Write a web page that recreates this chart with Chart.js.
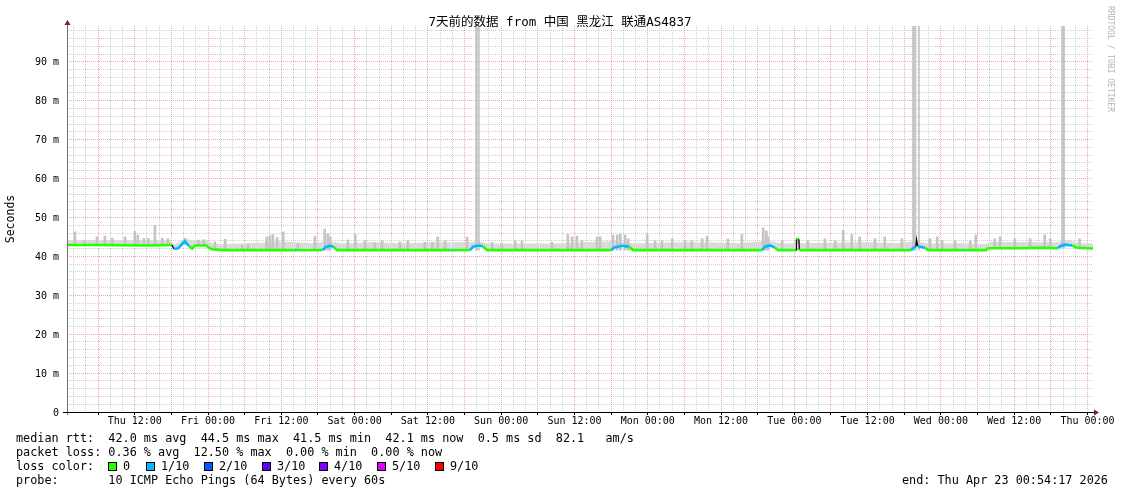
<!DOCTYPE html>
<html>
<head>
<meta charset="utf-8">
<script src="https://cdn.jsdelivr.net/npm/chart.js@4.4.1/dist/chart.umd.min.js"></script>
<style>
  html, body { margin: 0; padding: 0; background: #ffffff; }
  canvas { display: block; }
</style>
</head>
<body>
<canvas id="c" width="1121" height="494"></canvas>
<script>
// ---------------- data (time in hours since start: Thu Apr 16 00:54:17) ----------------
const xTickLabels = ['Thu 12:00','Fri 00:00','Fri 12:00','Sat 00:00','Sat 12:00','Sun 00:00','Sun 12:00',
                     'Mon 00:00','Mon 12:00','Tue 00:00','Tue 12:00','Wed 00:00','Wed 12:00','Thu 00:00'];
const xTickHours = [11.0953, 23.0953, 35.0953, 47.0953, 59.0953, 71.0953, 83.0953,
                    95.0953, 107.0953, 119.0953, 131.0953, 143.0953, 155.0953, 167.0953];
const yTickValues = [0, 10, 20, 30, 40, 50, 60, 70, 80, 90];
const yTickLabels = ['0', '10 m', '20 m', '30 m', '40 m', '50 m', '60 m', '70 m', '80 m', '90 m'];

// median rtt (ms) and packet loss (tenths) of each median point
const medianHours = [0, 5.4, 13.3, 17.2, 17.5, 18.2, 19.3, 20.0, 20.5, 21.0, 22.8, 23.3, 23.9, 26.0,
  37.3, 37.5, 37.8, 41.8, 42.4, 43.1, 43.7, 44.2, 62.8, 63.0, 63.2, 66.0, 66.5, 67.3, 68.1, 68.8,
  89.1, 89.6, 90.9, 92.0, 92.7, 113.8, 114.3, 115.1, 115.9, 116.4, 119.4, 119.45, 119.85, 119.9,
  138.2, 138.7, 139.0, 139.1, 139.3, 140.5, 141.0, 146.7, 146.9, 147.1, 150.5, 150.8, 156.0, 159.3, 162.3,
  162.6, 163.4, 164.6, 165.4, 168.0];
const medianMs = [42.9, 42.9, 42.8, 42.9, 41.9, 42.1, 43.9, 42.6, 42.0, 42.8, 42.8, 42.1, 41.8, 41.6,
  41.6, 41.6, 41.6, 41.6, 42.4, 42.7, 42.4, 41.6, 41.6, 41.6, 41.6, 41.6, 42.5, 42.8, 42.6, 41.6,
  41.6, 42.3, 42.7, 42.5, 41.6, 41.6, 42.5, 42.8, 42.3, 41.6, 41.6, 44.5, 44.4, 41.6,
  41.6, 42.3, 42.5, 44.3, 42.6, 42.2, 41.6, 41.6, 41.6, 41.6, 41.6, 42.1, 42.1, 42.2, 42.1,
  42.6, 43.0, 42.8, 42.2, 42.0];
const medianLoss = [0, 0, 0, 0, 0, 1, 1, 1, 0, 0, 0, 0, 0, 0,
  0, 1, 0, 0, 1, 1, 1, 0, 0, 1, 0, 0, 1, 1, 1, 0,
  0, 1, 1, 1, 0, 0, 1, 1, 1, 0, 0, 0, 0, 0,
  0, 1, 1, 1, 1, 1, 0, 0, 1, 0, 0, 0, 0, 0, 0,
  1, 1, 1, 0, 0];

// smoke: general band top, and individual smoke spikes
const smokeBandHours = [0, 17.0, 17.6, 19.3, 21.0, 23.0, 24.0, 26.0, 30.0, 35.0, 40.0, 43.0, 45.0, 50.0,
  55.0, 60.0, 66.0, 67.3, 69.0, 75.0, 80.0, 86.0, 90.0, 93.0, 100.0, 105.0, 110.0, 115.0, 117.0,
  125.0, 130.0, 136.0, 139.0, 141.0, 145.0, 150.5, 151.0, 156.0, 162.0, 164.0, 166.0, 168.0];
const smokeBandTop = [44.2, 44.2, 43.0, 44.6, 44.0, 44.0, 43.2, 43.2, 43.4, 43.8, 43.4, 43.9, 43.3, 43.6,
  43.4, 43.6, 43.6, 43.9, 43.3, 43.3, 43.3, 43.7, 43.9, 43.3, 43.6, 43.6, 43.4, 44.0, 43.3,
  43.5, 43.7, 43.4, 43.9, 43.3, 43.4, 43.2, 43.7, 43.7, 43.6, 44.2, 43.4, 43.3];

const smokeSpikeHours = [1.3, 2.9, 4.9, 6.2, 7.4, 9.5, 11.1, 11.6, 12.6, 13.3, 14.4, 15.6, 16.5,
  19.3, 21.5, 22.4, 24.2, 25.9, 28.7, 29.6, 32.7, 33.2, 33.7, 34.4, 35.4, 37.8, 40.6, 42.2, 42.7, 43.1,
  46.0, 47.2, 48.8, 50.4, 51.6, 54.5, 55.8, 58.6, 59.8, 60.7, 61.9, 65.5, 69.6, 71.2,
  73.4, 74.5, 79.4, 82.0, 82.7, 83.5, 84.3, 86.8, 87.3, 89.4, 90.1, 90.6, 91.4, 91.9, 95.0, 96.3,
  97.4, 99.1, 101.2, 102.3, 104.0, 104.8, 108.2, 110.5, 114.0, 114.5, 114.8, 117.1, 121.3, 124.1,
  125.8, 127.1, 128.5, 129.8, 132.3, 133.9, 136.7, 141.3, 142.5, 143.3, 145.4, 147.9,
  148.8, 151.9, 152.8, 155.2, 157.7, 160.1, 161.0, 165.8];
const smokeSpikeTop = [46.3, 44.2, 45.0, 45.2, 44.7, 45.0, 46.4, 45.5, 44.6, 44.6, 48.0, 44.7, 44.5,
  44.7, 44.2, 44.3, 43.7, 44.4, 42.9, 43.2, 45.0, 45.3, 45.6, 44.8, 46.3, 43.2, 45.1, 47.0, 45.8, 45.0,
  44.2, 45.6, 44.0, 43.5, 44.0, 43.7, 44.0, 43.6, 43.6, 45.0, 44.0, 45.0, 43.6, 43.3,
  44.0, 44.0, 43.6, 45.6, 45.0, 45.2, 44.0, 45.0, 45.0, 45.5, 45.5, 45.8, 45.5, 44.5, 45.7, 44.0,
  44.0, 44.5, 44.0, 44.0, 44.5, 45.2, 44.5, 45.6, 47.3, 46.5, 45.0, 44.0, 44.0, 44.5,
  44.0, 46.7, 45.6, 45.0, 44.5, 45.0, 44.5, 44.5, 45.0, 44.0, 44.0, 44.0,
  45.5, 44.5, 45.0, 44.5, 44.5, 45.5, 44.5, 44.5];
const smokeSpikeLow = [42.9, 42.9, 42.9, 42.9, 42.9, 42.9, 42.9, 42.9, 42.9, 42.9, 42.9, 42.9, 42.9,
  43.0, 42.8, 42.8, 41.8, 41.7, 41.6, 41.6, 41.6, 41.6, 41.6, 41.6, 41.6, 41.6, 41.6, 41.6, 41.6, 41.6,
  41.6, 41.6, 41.6, 41.6, 41.6, 41.6, 41.6, 41.6, 41.6, 41.6, 41.6, 41.6, 41.6, 41.6,
  41.6, 41.6, 41.6, 41.6, 41.6, 41.6, 41.6, 41.6, 41.6, 41.6, 41.6, 41.6, 41.6, 41.6, 41.6, 41.6,
  41.6, 41.6, 41.6, 41.6, 41.6, 41.6, 41.6, 41.6, 41.6, 41.6, 41.6, 41.6, 41.6, 41.6,
  41.6, 41.6, 41.6, 41.6, 41.6, 41.6, 41.6, 41.6, 41.6, 41.6, 41.6, 41.6,
  41.6, 42.1, 42.1, 42.1, 42.1, 42.1, 42.1, 42.1];

// the three very tall smoke columns (one entry per rrd step)
const tallSmokeHours = [66.97, 67.13, 67.46, 138.53, 138.69, 138.85, 139.50, 162.93, 163.09, 163.26];
const tallSmokeTop = [99.2, 99.2, 99.2, 99.2, 99.2, 99.2, 99.2, 99.2, 99.2, 99.2];
const tallSmokeLow = [41.6, 41.6, 41.6, 41.6, 41.6, 41.6, 41.6, 42.1, 42.1, 42.1];

const lossLegendLabels = ['0', '1/10', '2/10', '3/10', '4/10', '5/10', '9/10'];
const lossLegendTenths = [0, 1, 2, 3, 4, 5, 9];

const titleText = '7天前的数据 from 中国 黑龙江 联通AS4837';
const legendLines = [
  'median rtt:  42.0 ms avg  44.5 ms max  41.5 ms min  42.1 ms now  0.5 ms sd  82.1   am/s',
  'packet loss: 0.36 % avg  12.50 % max  0.00 % min  0.00 % now',
  'loss color:',
  'probe:       10 ICMP Echo Pings (64 Bytes) every 60s'
];
const endText = 'end: Thu Apr 23 00:54:17 2026';

// ---------------- styling ----------------
const lossColors = {0: '#26ff00', 1: '#00b8ff', 2: '#0059ff', 3: '#5e00ff', 4: '#7e00ff', 5: '#dd00ff', 9: '#ff0000'};
const MONO = "'DejaVu Sans Mono', 'Noto Sans CJK SC', monospace";
const minorGrid = 'rgba(150,150,150,0.45)';
const majorGrid = 'rgba(240,110,110,0.6)';
const X_MIN = 0, X_MAX = 168, Y_MAX = 99.2;

Chart.defaults.font.family = MONO;
Chart.defaults.color = '#000';

const isMajorX = v => {
  const r = (v - xTickHours[0]) / 6;
  return Math.abs(r - Math.round(r)) < 1e-3;
};

const medianPoints = medianHours.map((h, i) => ({x: h, y: medianMs[i]}));
const bandPoints = smokeBandHours.map((h, i) => ({x: h, y: smokeBandTop[i]}));
const spikePoints = smokeSpikeHours.map((h, i) => ({x: h, y: [smokeSpikeLow[i], smokeSpikeTop[i]]}));
const tallPoints = tallSmokeHours.map((h, i) => ({x: h, y: [tallSmokeLow[i], tallSmokeTop[i]]}));

const steep = c => {
  const dx = Math.abs(c.p1.x - c.p0.x), dy = Math.abs(c.p1.y - c.p0.y);
  return dy > 3 && dy > 2 * dx;
};

const decor = {
  id: 'decor',
  afterDraw(chart) {
    const ctx = chart.ctx;
    const a = chart.chartArea;
    ctx.save();
    // axes
    ctx.lineWidth = 1;
    ctx.strokeStyle = '#707070';
    ctx.beginPath(); ctx.moveTo(a.left + 0.5, a.bottom + 3); ctx.lineTo(a.left + 0.5, a.top - 3); ctx.stroke();
    ctx.strokeStyle = '#000';
    ctx.beginPath(); ctx.moveTo(a.left - 4, a.bottom + 0.5); ctx.lineTo(a.right + 2, a.bottom + 0.5); ctx.stroke();
    // arrows
    ctx.fillStyle = '#8b1a1a';
    ctx.beginPath(); ctx.moveTo(a.left + 0.5, a.top - 6); ctx.lineTo(a.left - 2.5, a.top - 1); ctx.lineTo(a.left + 3.5, a.top - 1); ctx.closePath(); ctx.fill();
    ctx.beginPath(); ctx.moveTo(a.right + 6, a.bottom + 0.5); ctx.lineTo(a.right + 1, a.bottom - 2.5); ctx.lineTo(a.right + 1, a.bottom + 3.5); ctx.closePath(); ctx.fill();

    // title
    ctx.fillStyle = '#000';
    ctx.font = '12.5px ' + MONO;
    ctx.textAlign = 'center'; ctx.textBaseline = 'middle';
    ctx.fillText(titleText, 560, 22.5);

    // vertical axis label
    ctx.save();
    ctx.translate(11, 219); ctx.rotate(-Math.PI / 2);
    ctx.font = '11.5px ' + MONO;
    ctx.fillText('Seconds', 0, 0);
    ctx.restore();

    // watermark
    ctx.save();
    ctx.translate(1110, 59); ctx.rotate(Math.PI / 2);
    ctx.font = '8px ' + MONO;
    ctx.fillStyle = '#b4b4b4';
    ctx.fillText('RRDTOOL / TOBI OETIKER', 0, 0);
    ctx.restore();

    // legend
    ctx.font = '11.8px ' + MONO;
    ctx.textAlign = 'left'; ctx.textBaseline = 'middle';
    ctx.fillStyle = '#000';
    const rows = [439, 453, 467, 481];
    legendLines.forEach((t, i) => ctx.fillText(t, 16, rows[i]));
    const sqX = [108, 146, 204, 262, 319, 377, 435];
    lossLegendLabels.forEach((lab, i) => {
      const x = sqX[i];
      ctx.fillStyle = lossColors[lossLegendTenths[i]];
      ctx.fillRect(x, 462, 8, 8);
      ctx.strokeStyle = '#000';
      ctx.strokeRect(x + 0.5, 462.5, 8, 8);
      ctx.fillStyle = '#000';
      ctx.fillText(lab, x + 15, 467);
    });
    ctx.fillText(endText, 902, 481);
    ctx.restore();
  }
};

new Chart(document.getElementById('c'), {
  type: 'bar',
  data: {
    datasets: [
      {
        type: 'line',
        label: 'median',
        data: medianPoints,
        order: 0,
        borderWidth: 2.6,
        pointRadius: 0,
        tension: 0,
        fill: false,
        borderColor: lossColors[0],
        segment: {
          borderColor: c => steep(c) ? '#000' : lossColors[medianLoss[c.p1DataIndex]],
          borderWidth: c => steep(c) ? 1.3 : 2.6
        }
      },
      {
        type: 'bar',
        label: 'smoke spikes',
        data: spikePoints,
        order: 1,
        barThickness: 2,
        backgroundColor: '#c4c4c4',
        borderWidth: 0,
        grouped: false
      },
      {
        type: 'bar',
        label: 'tall smoke',
        data: tallPoints,
        order: 1,
        barThickness: 1,
        backgroundColor: '#c4c4c4',
        borderWidth: 0,
        grouped: false
      },
      {
        type: 'line',
        label: 'smoke band',
        data: bandPoints,
        order: 2,
        borderWidth: 0,
        pointRadius: 0,
        tension: 0,
        backgroundColor: '#dadada',
        fill: 0
      }
    ]
  },
  options: {
    responsive: false,
    devicePixelRatio: 1,
    animation: false,
    layout: { padding: { left: 0, top: 26, right: 28, bottom: 0 } },
    plugins: { legend: { display: false }, tooltip: { enabled: false }, title: { display: false } },
    scales: {
      x: {
        type: 'linear',
        min: X_MIN, max: X_MAX,
        offset: false,
        afterBuildTicks: scale => {
          const ticks = [];
          const first = xTickHours[0] % 2;
          for (let v = first; v < X_MAX; v += 2) ticks.push({value: v});
          scale.ticks = ticks;
        },
        afterFit: scale => { scale.height = 82; },
        ticks: {
          autoSkip: false, maxRotation: 0, minRotation: 0, padding: 0,
          font: { size: 10, family: MONO }, color: '#000',
          callback: v => {
            const i = xTickHours.findIndex(h => Math.abs(h - v) < 1e-3);
            return i >= 0 ? xTickLabels[i] : '';
          }
        },
        grid: {
          offset: false,
          color: c => isMajorX(c.tick.value) ? majorGrid : minorGrid,
          lineWidth: 1,
          drawTicks: true, tickLength: 3,
          tickColor: c => isMajorX(c.tick.value) ? '#000' : 'rgba(0,0,0,0)',
          tickBorderDash: []
        },
        border: { display: false, dash: [1, 1] }
      },
      y: {
        type: 'linear',
        min: 0, max: Y_MAX,
        afterBuildTicks: scale => {
          const ticks = [];
          for (let v = 0; v < Y_MAX; v += 2) ticks.push({value: v});
          scale.ticks = ticks;
        },
        afterFit: scale => { scale.width = 67; },
        ticks: {
          autoSkip: false, padding: 8, labelOffset: 1,
          font: { size: 10, family: MONO }, color: '#000',
          callback: v => {
            const i = yTickValues.indexOf(v);
            return i >= 0 ? yTickLabels[i] : '';
          }
        },
        grid: {
          color: c => (c.tick.value % 10 === 0 ? majorGrid : minorGrid),
          lineWidth: 1,
          drawTicks: false
        },
        border: { display: false, dash: [1, 1] }
      }
    }
  },
  plugins: [decor]
});
</script>
</body>
</html>
